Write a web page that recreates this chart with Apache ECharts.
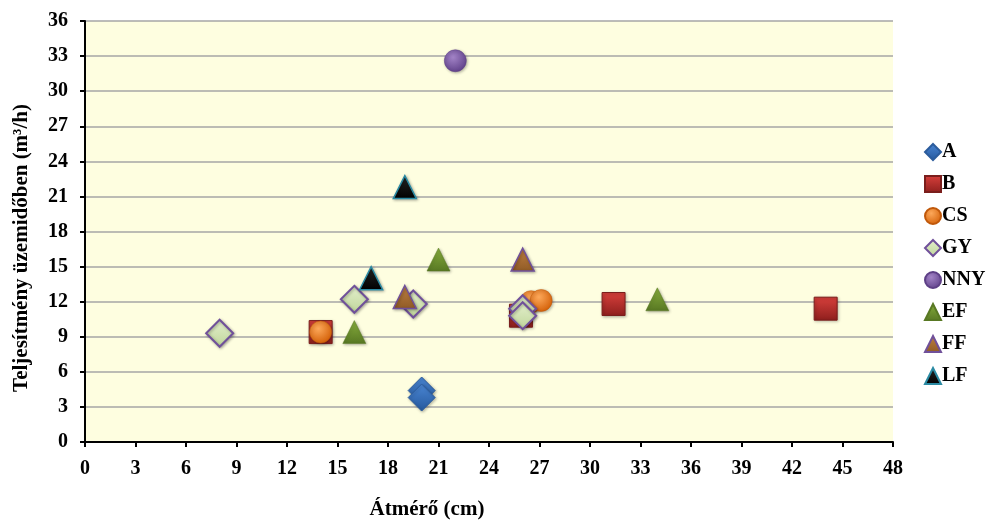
<!DOCTYPE html>
<html>
<head>
<meta charset="utf-8">
<script src="https://cdn.jsdelivr.net/npm/echarts@6/dist/echarts.min.js"></script>
<style>
  html, body { margin: 0; padding: 0; background: #ffffff; }
  #chart { width: 990px; height: 521px; }
</style>
</head>
<body>
<div id="chart"></div>
<script>
// Diameter (cm) vs. output in operating time (m3/h), by group
const seriesNames = ['A', 'B', 'CS', 'GY', 'NNY', 'EF', 'FF', 'LF'];

const dataA   = [[20, 4.4], [20, 3.8]];
const dataB   = [[14, 9.4], [25.9, 10.8], [31.4, 11.8], [44, 11.4]];
const dataCS  = [[14, 9.4], [26.5, 12.0], [27.1, 12.1]];
const dataGY  = [[8, 9.3], [16, 12.2], [19.5, 11.8], [26, 11.4], [26, 10.8]];
const dataNNY = [[22, 32.6]];
const dataEF  = [[16, 9.4], [21, 15.6], [34, 12.2]];
const dataFF  = [[19, 12.4], [26, 15.6]];
const dataLF  = [[17, 14.0], [19, 21.8]];

const xTicks = { min: 0, max: 48, interval: 3 };
const yTicks = { min: 0, max: 36, interval: 3 };

const FONT = '"Liberation Serif", "Times New Roman", serif';

function grad(c1, c2) {
  return new echarts.graphic.LinearGradient(0, 0, 0, 1, [
    { offset: 0, color: c1 },
    { offset: 1, color: c2 }
  ]);
}
function radial(c1, c2) {
  return new echarts.graphic.RadialGradient(0.4, 0.35, 0.7, [
    { offset: 0, color: c1 },
    { offset: 1, color: c2 }
  ]);
}

const styles = {
  A:   { data: dataA,   symbol: 'diamond',  size: [27, 27], color: grad('#4a86d4', '#25589c'), border: '#2c5c9c', bw: 1 },
  B:   { data: dataB,   symbol: 'rect',     size: [23, 23], color: grad('#d8403c', '#8e1f1d'), border: '#7a1e1c', bw: 1 },
  CS:  { data: dataCS,  symbol: 'circle',   size: [22, 22], color: radial('#fca85a', '#d35e05'), border: '#c0580a', bw: 0.5 },
  GY:  { data: dataGY,  symbol: 'diamond',  size: [27, 27], color: grad('#e4efcd', '#bfd69a'), border: '#70509a', bw: 2 },
  NNY: { data: dataNNY, symbol: 'circle',   size: [22, 22], color: radial('#a283c6', '#5e3f88'), border: '#5d3f86', bw: 0.5 },
  EF:  { data: dataEF,  symbol: 'triangle', size: [23, 23], color: grad('#86ac3c', '#587823'), border: '#587823', bw: 0.5 },
  FF:  { data: dataFF,  symbol: 'triangle', size: [23, 23], color: grad('#bf8142', '#8f5a25'), border: '#70509a', bw: 1.5 },
  LF:  { data: dataLF,  symbol: 'triangle', size: [23, 23], color: grad('#262626', '#000000'), border: '#2a8aa3', bw: 1.5 }
};

const series = seriesNames.map(name => {
  const s = styles[name];
  return {
    name: name,
    type: 'scatter',
    data: s.data,
    symbol: s.symbol,
    symbolSize: s.size,
    itemStyle: {
      color: s.color,
      opacity: 1,
      borderColor: s.border,
      borderWidth: s.bw,
      shadowColor: 'rgba(0,0,0,0.3)',
      shadowBlur: 3,
      shadowOffsetX: 1,
      shadowOffsetY: 1
    },
    emphasis: { disabled: true }
  };
});

const chart = echarts.init(document.getElementById('chart'), null, { renderer: 'canvas' });

const axisLabelStyle = { fontFamily: FONT, fontWeight: 'bold', fontSize: 20, color: '#000' };

chart.setOption({
  animation: false,
  backgroundColor: '#ffffff',
  grid: {
    left: 85, right: 97, top: 21, bottom: 79,
    show: true,
    backgroundColor: '#fefee0',
    borderWidth: 0
  },
  legend: {
    orient: 'vertical',
    left: 919,
    top: 137,
    itemWidth: 16,
    itemHeight: 16,
    itemGap: 12,
    data: seriesNames,
    textStyle: { fontFamily: FONT, fontWeight: 'bold', fontSize: 20, color: '#000', padding: [0, 0, 0, -4] }
  },
  xAxis: {
    type: 'value',
    min: xTicks.min, max: xTicks.max, interval: xTicks.interval,
    axisLine: { show: true, onZero: false, lineStyle: { color: '#000', width: 2 } },
    axisTick: { show: true, length: 5, lineStyle: { color: '#000', width: 2 } },
    axisLabel: Object.assign({ margin: 17 }, axisLabelStyle),
    splitLine: { show: false }
  },
  yAxis: {
    type: 'value',
    min: yTicks.min, max: yTicks.max, interval: yTicks.interval,
    axisLine: { show: true, onZero: false, lineStyle: { color: '#000', width: 2 } },
    axisTick: { show: true, length: 5, lineStyle: { color: '#000', width: 2 } },
    axisLabel: Object.assign({ margin: 17 }, axisLabelStyle),
    splitLine: { show: true, lineStyle: { color: '#a6a6a6', width: 1.5 } }
  },
  graphic: [
    {
      type: 'text',
      x: 427, y: 510,
      style: {
        text: 'Átmérő (cm)',
        x: 0, y: 0,
        align: 'center', verticalAlign: 'middle',
        font: 'bold 21px ' + FONT,
        fill: '#000'
      }
    },
    {
      type: 'text',
      x: 22, y: 248,
      rotation: Math.PI / 2,
      style: {
        text: 'Teljesítmény üzemidőben (m³/h)',
        x: 0, y: 0,
        align: 'center', verticalAlign: 'middle',
        font: 'bold 21px ' + FONT,
        fill: '#000'
      }
    }
  ],
  series: series
});
</script>
</body>
</html>
